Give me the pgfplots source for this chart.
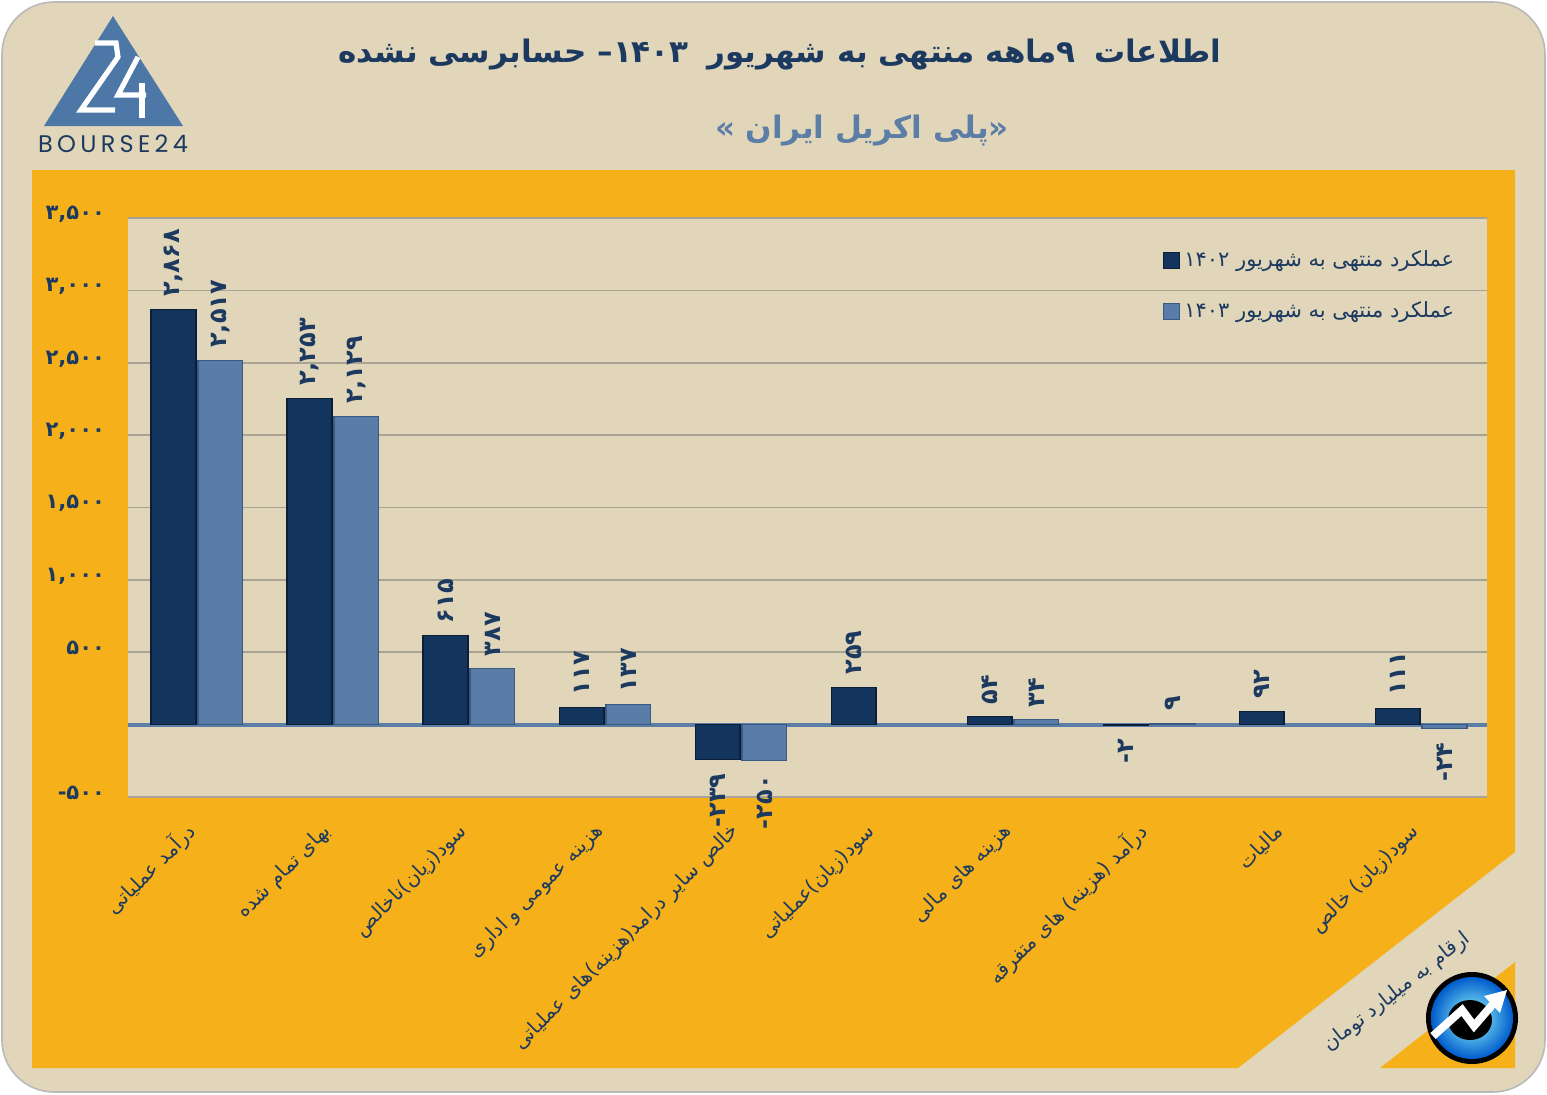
\documentclass[border=0pt]{standalone}
\usepackage{pgfplots}
\pgfplotsset{compat=1.18}
\usepackage{fontspec}
\setmainfont{DejaVu Sans}
\newfontfamily\arabicfont[Script=Arabic]{DejaVu Sans}
\newfontfamily\digitfont{DejaVu Sans}
\newfontfamily\logofont[LetterSpace=18]{Poppins}
\TeXXeTstate=1

\definecolor{bgbeige}{HTML}{E1D6BA}
\definecolor{orangep}{HTML}{F6B11A}
\definecolor{navy}{HTML}{1C3A60}
\definecolor{steel}{HTML}{5B7DA6}
\definecolor{gridc}{HTML}{A9A394}
\definecolor{darkbar}{HTML}{12345D}
\definecolor{darkedge}{HTML}{0A1E38}
\definecolor{lightbar}{HTML}{5A7CA8}
\definecolor{lightedge}{HTML}{3A5A82}
\definecolor{logoblue}{HTML}{4D77A7}

\newcommand{\negl}[1]{\llap{#1\kern13.5pt}}

\begin{document}
\begin{tikzpicture}
\begin{scope}[x=0.5pt,y=-0.5pt]
\useasboundingbox (0,0) rectangle (1547,1094);
\fill[white] (0,0) rectangle (1547,1094);
\filldraw[fill=bgbeige, draw=gray!55, line width=0.8pt, rounded corners=26pt] (2,2) rectangle (1545,1092);
% orange panel
\fill[orangep] (32,170) -- (1515,170) -- (1515,852) -- (1238,1068) -- (32,1068) -- cycle;
\fill[orangep] (1515,962) -- (1515,1068) -- (1380,1068) -- cycle;
% plot area
\fill[bgbeige] (128,218) rectangle (1487,797);
% titles
\node[text=navy, font=\arabicfont\bfseries\fontsize{15.5}{20}\selectfont] at (780,55)
  {\beginR اطلاعات\hspace{0.6em}۹ماهه منتهی به شهریور\hspace{0.6em}۱۴۰۳\kern0pt– حسابرسی نشده\endR};
\node[text=steel, font=\arabicfont\bfseries\fontsize{15.5}{20}\selectfont] at (862,130)
  {\beginR «\kern0pt پلی اکریل ایران »\endR};
% top-left logo
\fill[logoblue] (113,16) -- (183,126) -- (44,126) -- cycle;
\draw[white, line width=2.6pt, line join=miter] (95,43) -- (116,43) -- (118,57) -- (81,110) -- (115,110);
\draw[white, line width=2.6pt, line join=miter] (138,57) -- (118,95) -- (146,95);
\draw[white, line width=2.6pt] (142,83) -- (142,118);
\node[text=navy, font=\logofont\fontsize{12}{14}\selectfont] at (113,144) {BOURSE24};
% stripe text
\node[text=navy, rotate=38, font=\arabicfont\fontsize{10}{12}\selectfont] at (1397,992)
  {\beginR ارقام به میلیارد تومان\endR};
% bottom-right logo
\fill[black] (1472,1018) circle (23pt);
\shade[inner color=cyan!40!white, outer color=blue!55!cyan!80!black] (1472,1018) circle (20.5pt);
\fill[black] (1470,1020) ellipse (11pt and 10pt);
\draw[white, line width=4pt, line join=miter] (1433,1036) -- (1462,1010) -- (1474,1026) -- (1493,1004);
\fill[white] (1507,990) -- (1484,996) -- (1500,1013) -- cycle;
\end{scope}

\begin{axis}[
  at={(64pt,-398.5pt)}, anchor=south west,
  width=679.5pt, height=289.5pt, scale only axis,
  xmin=-0.507, xmax=9.485, ymin=-500, ymax=3500,
  axis line style={draw=none},
  tick style={draw=none},
  ybar=1pt, bar width=0.33,
  ymajorgrids, grid style={gridc, line width=0.8pt},
  ytick={-500,500,1000,1500,2000,2500,3000,3500},
  yticklabels={-۵۰۰,۵۰۰,{۱,۰۰۰},{۱,۵۰۰},{۲,۰۰۰},{۲,۵۰۰},{۳,۰۰۰},{۳,۵۰۰}},
  yticklabel style={font=\digitfont\bfseries\fontsize{10.5}{12}\selectfont, text=navy, anchor=east, xshift=-8pt, yshift=2pt},
  extra y ticks={0}, extra y tick labels={},
  extra y tick style={ymajorgrids, major grid style={steel, line width=2pt}},
  xtick={0,...,9},
  xticklabels={
    {\beginR درآمد عملیاتی\endR},
    {\beginR بهای تمام شده\endR},
    {\beginR سود(زیان)ناخالص\endR},
    {\beginR هزینه عمومی و اداری\endR},
    {\beginR خالص سایر درامد(هزینه)های عملیاتی\endR},
    {\beginR سود(زیان)عملیاتی\endR},
    {\beginR هزینه های مالی\endR},
    {\beginR درآمد (هزینه) های متفرقه\endR},
    {\beginR مالیات\endR},
    {\beginR سود(زیان) خالص\endR}},
  xticklabel style={font=\arabicfont\fontsize{10}{12}\selectfont, text=navy, yshift=-9pt, rotate=45, anchor=east},
  nodes near coords, point meta=explicit symbolic,
  every node near coord/.append style={font=\digitfont\bfseries\fontsize{12}{14}\selectfont, text=navy, rotate=90, anchor=west, inner sep=6pt},
  legend style={at={(0.757,0.958)}, anchor=north west, draw=none, fill=none,
    font=\arabicfont\fontsize{10.5}{12}\selectfont, text=navy, row sep=12pt},
  legend cell align=left,
  legend image code/.code={\fill[#1] (0pt,-4pt) rectangle (8pt,4pt);},
]
\addplot[fill=darkbar, draw=darkedge, line width=0.6pt] coordinates {
  (0,2868) [۲,۸۶۸]
  (1,2253) [۲,۲۵۳]
  (2,615) [۶۱۵]
  (3,117) [۱۱۷]
  (4,-239) [\negl{-۲۳۹}]
  (5,259) [۲۵۹]
  (6,54) [۵۴]
  (7,-2) [\negl{-۲}]
  (8,92) [۹۲]
  (9,111) [۱۱۱]
};
\addlegendentry{\beginR عملکرد منتهی به شهریور ۱۴۰۲\endR}
\addplot[fill=lightbar, draw=lightedge, line width=0.6pt] coordinates {
  (0,2517) [۲,۵۱۷]
  (1,2129) [۲,۱۲۹]
  (2,387) [۳۸۷]
  (3,137) [۱۳۷]
  (4,-250) [\negl{-۲۵۰}]
  (6,34) [۳۴]
  (7,9) [۹]
  (9,-24) [\negl{-۲۴}]
};
\addlegendentry{\beginR عملکرد منتهی به شهریور ۱۴۰۳\endR}
\end{axis}
\end{tikzpicture}
\end{document}
